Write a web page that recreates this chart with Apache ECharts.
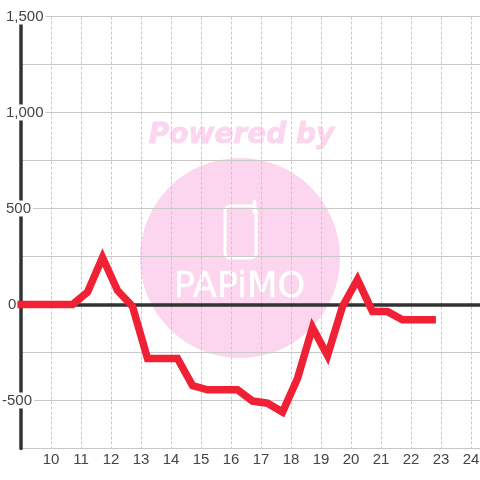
<!DOCTYPE html>
<html>
<head>
<meta charset="utf-8">
<style>
  html, body { margin: 0; padding: 0; background: #fff; }
  #main { width: 480px; height: 480px; }
</style>
<script src="https://cdn.jsdelivr.net/npm/echarts@6/dist/echarts.min.js"></script>
</head>
<body>
<div id="main"></div>
<script>
// half-hourly readings, the stroke starts a little left of the y axis
const hours = [8.88, 9.217, 9.717, 10.217, 10.717, 11.217, 11.717, 12.217, 12.717, 13.217, 13.717, 14.217, 14.717, 15.217, 15.717, 16.217, 16.717, 17.217, 17.717, 18.217, 18.717, 19.217, 19.717, 20.217, 20.717, 21.217, 21.717, 22.217, 22.83];
const values = [0, 0, 0, 0, 0, 64, 245, 73, -10, -281, -281, -281, -422, -444, -444, -444, -503, -514, -560, -385, -120, -266, -10, 130, -37, -37, -80, -80, -80];
const yLabels = [1500, 1000, 500, 0, -500];

const points = hours.map((h, i) => [h, values[i]]);
const PINK = '#fbd6ee';

let myChart = echarts.init(document.getElementById('main'));
let option = {
  animation: false,
  backgroundColor: '#fff',
  grid: { left: 21, right: 0, top: 16.5, bottom: 31.5, outerBoundsMode: 'none' },
  xAxis: [
    {
      type: 'value',
      min: 9,
      max: 24.3,
      interval: 1,
      axisLine: { show: false, onZero: false },
      axisTick: { show: false },
      axisLabel: {
        margin: 4,
        fontSize: 15,
        fontFamily: 'Liberation Sans',
        color: '#444',
        showMinLabel: false,
        showMaxLabel: false,
        formatter: (v) => (Number.isInteger(v) ? String(v) : '')
      },
      splitLine: { show: true, lineStyle: { color: '#c8c8c8', width: 1, type: [3, 2] } }
    },
    {
      // heavy line at zero
      type: 'value',
      min: 9,
      max: 24.3,
      interval: 1,
      axisLine: { show: true, onZero: true, lineStyle: { color: '#333', width: 3.5 } },
      axisTick: { show: false },
      axisLabel: { show: false },
      splitLine: { show: false }
    }
  ],
  yAxis: {
    type: 'value',
    min: -750,
    max: 1500,
    interval: 250,
    axisLine: { show: true, onZero: false, lineStyle: { color: '#333', width: 3.5 } },
    axisTick: { show: false },
    axisLabel: {
      margin: 19,
      align: 'left',
      formatter: (v) => {
        if (!yLabels.includes(v)) return '';
        let text = echarts.format.addCommas(v);
        if (v === 0) return '{zero|' + text + '}';
        return (v < 0 ? '{neg|' : '{pos|') + text + '}';
      },
      rich: {
        pos: { fontSize: 15, fontFamily: 'Liberation Sans', color: '#444', lineHeight: 16, backgroundColor: '#fff', padding: [1, 2, 0, 4] },
        neg: { fontSize: 15, fontFamily: 'Liberation Sans', color: '#444', lineHeight: 16, backgroundColor: '#fff', padding: [1, 2, 0, 0] },
        zero: { fontSize: 15, fontFamily: 'Liberation Sans', color: '#444', lineHeight: 16, padding: [1, 0, 0, 6] }
      }
    },
    splitLine: { show: true, lineStyle: { color: '#c8c8c8', width: 1 } }
  },
  graphic: [
    { type: 'circle', z: -10, shape: { cx: 240, cy: 258, r: 100 }, style: { fill: PINK } },
    {
      type: 'text', z: -10, x: 241.5, y: 136,
      style: { text: 'Powered by', fill: PINK, stroke: PINK, lineWidth: 0.8, font: 'italic bold 28px "DejaVu Sans"', align: 'center', verticalAlign: 'middle' }
    },
    {
      // phone outline
      type: 'rect', z: -9,
      shape: { x: 225, y: 206, width: 31, height: 52, r: 5 },
      style: { fill: 'none', stroke: '#fff', lineWidth: 3 }
    },
    {
      type: 'line', z: -9,
      shape: { x1: 254.5, y1: 202, x2: 254.5, y2: 212 },
      style: { stroke: '#fff', lineWidth: 4, lineCap: 'round' }
    },
    {
      type: 'text', z: -9, x: 239.5, y: 288, scaleX: 0.98,
      style: {
        text: 'PAPiMO',
        fill: '#fff',
        stroke: '#fff',
        lineWidth: 0.5,
        font: '36px "DejaVu Sans ExtraLight", "DejaVu Sans"',
        align: 'center',
        verticalAlign: 'middle'
      }
    }
  ],
  series: [
    {
      type: 'line',
      data: points,
      xAxisIndex: 0,
      symbol: 'none',
      clip: false,
      z: 5,
      lineStyle: { color: '#f02035', width: 7.5, cap: 'butt', join: 'miter' }
    }
  ]
};
myChart.setOption(option);
</script>
</body>
</html>
